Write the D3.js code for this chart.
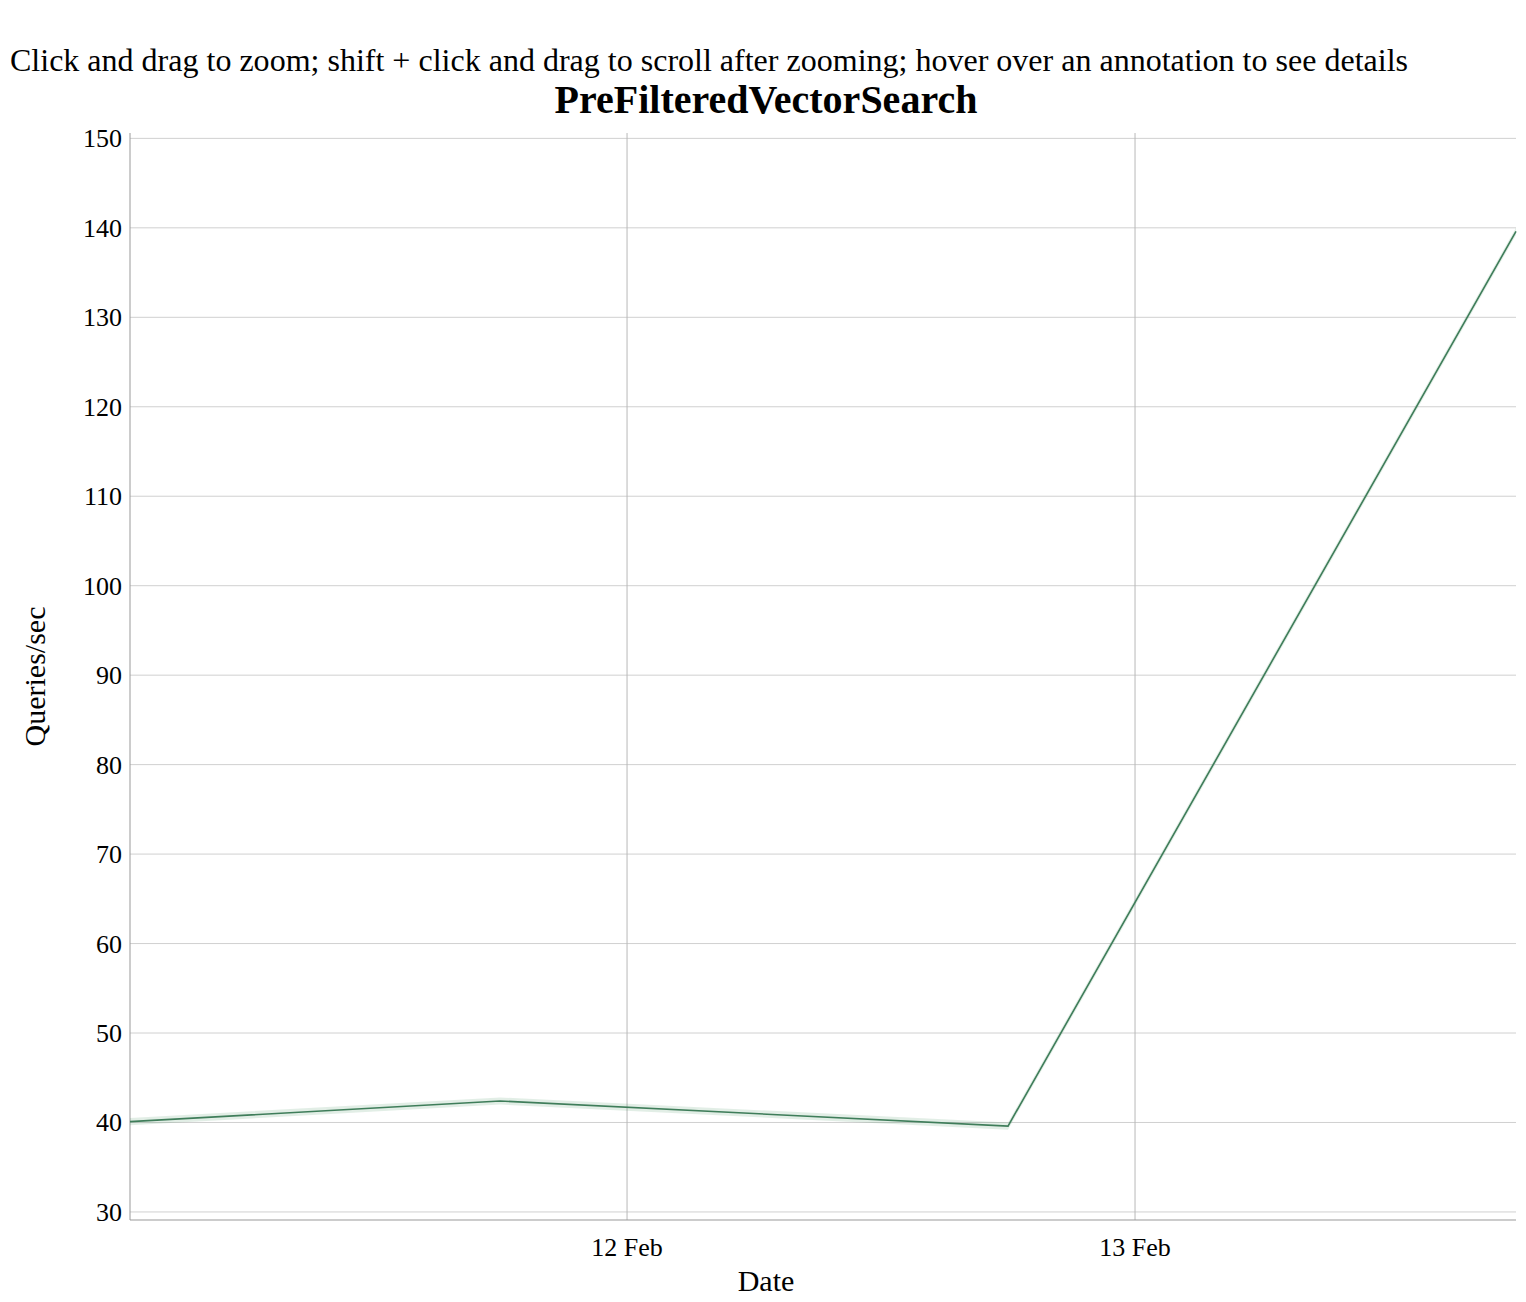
<!DOCTYPE html>
<html><head><meta charset="utf-8">
<script src="https://cdn.jsdelivr.net/npm/d3@7"></script>
<style>body{margin:0;background:#fff;font-family:"Liberation Serif",serif}</style>
</head><body><svg id="c" width="1526" height="1302"></svg>
<script>
const dates = ["2024-02-11T00:31","2024-02-11T18:00","2024-02-12T18:00","2024-02-13T18:00"];
const qps = [40.1, 42.4, 39.6, 139.6];
const yTicks = [30,40,50,60,70,80,90,100,110,120,130,140,150];
const xTicks = ["2024-02-12T00:00","2024-02-13T00:00"];
const xTickLabels = ["12 Feb","13 Feb"];
const parse = d3.timeParse("%Y-%m-%dT%H:%M");
const svg = d3.select("#c");
const L=130,R=1516,T=133,B=1220;
const x = d3.scaleTime().domain([parse(dates[0]),parse(dates[3])]).range([L,R]);
const y = d3.scaleLinear().domain([29.1,150.6]).range([B,T]);
svg.append("text").attr("x",10).attr("y",71).attr("font-size",32).attr("textLength",1398).text("Click and drag to zoom; shift + click and drag to scroll after zooming; hover over an annotation to see details");
svg.append("text").attr("x",766).attr("y",113).attr("text-anchor","middle").attr("font-size",40).attr("font-weight","bold").text("PreFilteredVectorSearch");
svg.selectAll(".hg").data(yTicks).join("line").attr("x1",L).attr("x2",R).attr("y1",d=>y(d)).attr("y2",d=>y(d)).attr("stroke","#d0d0d0");
svg.selectAll(".vg").data(xTicks).join("line").attr("y1",T).attr("y2",B).attr("x1",d=>x(parse(d))).attr("x2",d=>x(parse(d))).attr("stroke","#b8b8b8");
svg.append("line").attr("x1",L).attr("x2",L).attr("y1",T).attr("y2",B).attr("stroke","#999");
svg.append("line").attr("x1",L).attr("x2",R).attr("y1",B).attr("y2",B).attr("stroke","#999");
svg.selectAll(".yl").data(yTicks).join("text").attr("x",L-8).attr("y",d=>y(d)+9).attr("text-anchor","end").attr("font-size",26).text(d=>d);
svg.selectAll(".xl").data(xTicks).join("text").attr("x",d=>x(parse(d))).attr("y",1256).attr("text-anchor","middle").attr("font-size",26).text((d,i)=>xTickLabels[i]);
svg.append("text").attr("x",766).attr("y",1291).attr("text-anchor","middle").attr("font-size",30).text("Date");
svg.append("text").attr("transform","translate(45,"+((T+B)/2)+") rotate(-90)").attr("text-anchor","middle").attr("font-size",30).text("Queries/sec");
const pts = dates.map((d,i)=>[parse(d),qps[i]]);
svg.append("path").attr("d",d3.area().x(d=>x(d[0])).y0(d=>y(d[1]-0.4)).y1(d=>y(d[1]+0.4))(pts)).attr("fill","#3a8a5a").attr("opacity",0.15);
svg.append("path").attr("d",d3.line().x(d=>x(d[0])).y(d=>y(d[1]))(pts)).attr("fill","none").attr("stroke","#3f7d5a").attr("stroke-width",1.6);
</script></body></html>
